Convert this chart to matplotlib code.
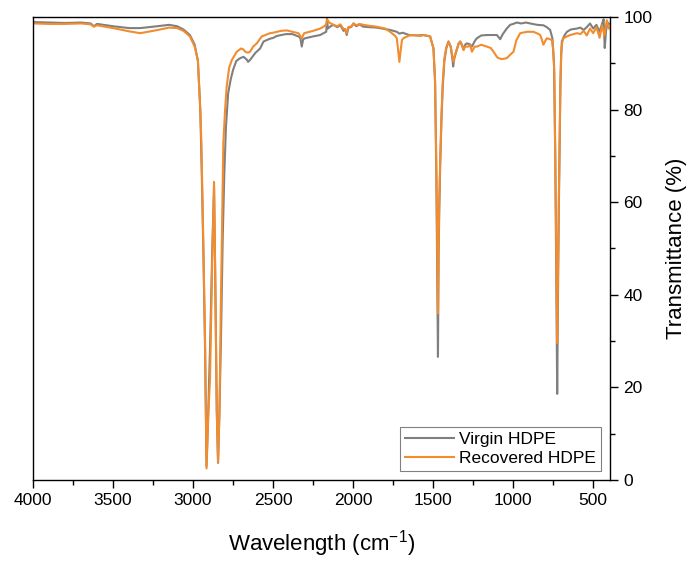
import matplotlib
matplotlib.use("Agg")
import matplotlib.pyplot as plt
from matplotlib.ticker import MultipleLocator

plt.rcParams['font.family'] = ['Liberation Sans', 'DejaVu Sans']
plt.rcParams['mathtext.fontset'] = 'custom'
plt.rcParams['mathtext.rm'] = 'Liberation Sans'
plt.rcParams['mathtext.it'] = 'Liberation Sans'

virgin_wn = [4000, 3900, 3800, 3700, 3640, 3620, 3600, 3500, 3400, 3330, 3250, 3150, 3100, 3060,
             3020, 2990, 2970, 2955, 2945, 2935, 2925, 2916, 2905, 2893, 2880, 2869, 2862, 2852,
             2844, 2835, 2825, 2815, 2805, 2795, 2781, 2765, 2750, 2730, 2706, 2685, 2665, 2656,
             2640, 2612, 2581, 2560, 2520, 2498, 2477, 2420, 2380, 2342, 2330, 2321, 2312, 2300,
             2250, 2206, 2180, 2168, 2163, 2158, 2140, 2123, 2100, 2080, 2060, 2050, 2040, 2030,
             2010, 1998, 1980, 1960, 1937, 1900, 1852, 1800, 1769, 1727, 1711, 1690, 1650, 1600,
             1561, 1519, 1498, 1488, 1480, 1475, 1470, 1466, 1462, 1456, 1448, 1440, 1430, 1418,
             1404, 1390, 1380, 1375, 1368, 1352, 1340, 1331, 1320, 1310, 1300, 1290, 1270, 1258,
             1240, 1227, 1200, 1164, 1130, 1102, 1081, 1065, 1040, 1019, 1000, 977, 950, 920,
             894, 850, 811, 790, 769, 755, 745, 737, 731, 725, 720, 715, 710, 705, 700, 696,
             680, 664, 640, 602, 580, 560, 540, 520, 500, 480, 460, 445, 435, 428, 420, 410, 400]
virgin_t = [98.9, 98.8, 98.7, 98.8, 98.6, 98.0, 98.5, 98.0, 97.6, 97.6, 97.9, 98.3, 98.0, 97.3,
            96.1, 94.0, 90.5, 80, 65, 48, 28, 3.0, 15, 30, 50, 63, 45, 15,
            3.7, 15, 32, 52, 66, 76, 83.5, 86.5, 88.6, 90.5, 91.1, 91.4, 90.8, 90.3,
            90.9, 92.2, 93.2, 94.7, 95.3, 95.5, 95.9, 96.3, 96.3, 95.8, 95.5, 93.6, 95.2, 95.4,
            95.8, 96.1, 96.6, 96.8, 99.6, 97.5, 98.0, 98.3, 97.8, 98.2, 97.0, 97.4, 96.1, 97.6,
            97.9, 98.6, 98.0, 98.4, 97.9, 97.8, 97.7, 97.4, 97.2, 96.8, 96.4, 96.6, 96.1, 96.0,
            96.1, 95.8, 93.2, 86, 65, 45, 26.6, 48, 58, 68, 78, 85, 90.5, 93.2,
            94.7, 93.5, 91.0, 89.3, 91.0, 93.0, 94.3, 94.7, 94.0, 92.9, 94.0, 94.3, 94.1, 93.6,
            94.8, 95.4, 96.0, 96.1, 96.1, 96.1, 95.2, 96.3, 97.5, 98.3, 98.5, 98.8, 98.6, 98.8,
            98.6, 98.3, 98.2, 97.8, 97.2, 95.4, 90, 70, 45, 18.6, 40, 58, 72, 85, 92, 94.7,
            96.0, 96.8, 97.3, 97.5, 97.7, 97.2, 97.8, 98.6, 97.5, 98.3, 96.8, 98.5, 99.5, 93.3, 97.0, 98.8, 98.5]

recovered_wn = [4000, 3900, 3800, 3700, 3640, 3620, 3600, 3500, 3400, 3330, 3250, 3150, 3100, 3060,
                3020, 2990, 2970, 2955, 2948, 2936, 2925, 2916, 2905, 2894, 2880, 2869, 2862, 2852,
                2844, 2835, 2827, 2811, 2800, 2790, 2775, 2758, 2727, 2700, 2687, 2670, 2656, 2644,
                2625, 2602, 2571, 2519, 2500, 2450, 2415, 2380, 2342, 2321, 2306, 2250, 2206, 2180,
                2168, 2163, 2150, 2123, 2100, 2080, 2060, 2050, 2040, 2030, 2010, 1998, 1980, 1960,
                1937, 1900, 1852, 1800, 1769, 1740, 1727, 1718, 1711, 1704, 1695, 1686, 1650, 1623,
                1581, 1561, 1519, 1498, 1488, 1480, 1475, 1470, 1466, 1462, 1456, 1448, 1440, 1430,
                1418, 1404, 1390, 1380, 1373, 1366, 1352, 1340, 1331, 1320, 1310, 1300, 1280, 1269,
                1258, 1240, 1227, 1200, 1164, 1140, 1123, 1100, 1092, 1070, 1040, 1020, 998, 980,
                956, 914, 873, 840, 831, 820, 811, 800, 790, 770, 758, 750, 743, 737, 731, 725,
                720, 715, 710, 705, 700, 694, 686, 664, 644, 600, 580, 560, 540, 520, 500, 480,
                460, 445, 430, 415, 400]
recovered_t = [98.6, 98.5, 98.5, 98.6, 98.4, 97.9, 98.2, 97.6, 96.9, 96.5, 97.0, 97.7, 97.6, 97.0,
               95.8, 93.6, 90.7, 80, 72.8, 51, 29.6, 2.5, 14, 22, 48, 64.4, 45, 15,
               3.9, 15, 36.7, 72.8, 80, 85, 89, 90.7, 92.5, 93.2, 93.0, 92.4, 92.3, 92.5,
               93.6, 94.3, 95.8, 96.5, 96.6, 97.0, 97.1, 96.8, 96.5, 95.4, 96.5, 97.0, 97.5, 98.0,
               98.4, 99.5, 98.8, 98.3, 98.0, 98.4, 97.4, 97.4, 96.5, 97.8, 98.0, 98.6, 98.2, 98.5,
               98.3, 98.1, 97.9, 97.5, 96.8, 96.0, 95.4, 92.5, 90.3, 92.5, 95.0, 95.4, 96.0, 96.1,
               95.9, 96.1, 95.8, 93.2, 86, 68, 52, 36, 50, 60, 69, 79, 86, 91,
               93.5, 94.7, 93.6, 91.5, 90.3, 91.5, 93.0, 94.3, 94.7, 93.8, 92.9, 93.6, 93.6, 94.0,
               92.5, 93.6, 93.6, 94.0, 93.6, 93.3, 92.5, 91.3, 91.1, 90.9, 91.1, 91.8, 92.5, 95.0,
               96.5, 96.8, 96.8, 96.3, 96.1, 95.0, 94.0, 94.8, 95.4, 95.2, 95.0, 93, 88, 70, 50, 29.6,
               45, 60, 73, 86, 92, 94.5, 95.4, 95.8, 96.1, 96.5, 96.3, 97.0, 96.0, 97.5, 96.5, 97.8,
               95.5, 98.2, 96.0, 99.3, 97.5]

labels = ["Virgin HDPE", "Recovered HDPE"]
colors = ["#7f7f7f", "#F28C2E"]

fig = plt.figure(figsize=(6.91, 5.62), dpi=100)
ax = fig.add_axes([0.0478, 0.1459, 0.8350, 0.8239])

ax.plot(virgin_wn, virgin_t, color=colors[0], lw=1.5, label=labels[0])
ax.plot(recovered_wn, recovered_t, color=colors[1], lw=1.5, label=labels[1])

ax.set_xlim(4000, 395)
ax.set_ylim(0, 100)
ax.xaxis.set_major_locator(MultipleLocator(500))
ax.xaxis.set_minor_locator(MultipleLocator(250))
ax.yaxis.set_major_locator(MultipleLocator(20))
ax.yaxis.set_minor_locator(MultipleLocator(10))
ax.yaxis.tick_right()
ax.yaxis.set_label_position("right")
ax.tick_params(which='major', direction='out', length=6, width=1, labelsize=12.5)
ax.tick_params(which='minor', direction='out', length=3.5, width=1)
ax.tick_params(axis='y', which='both', left=False, right=True)
ax.tick_params(axis='x', which='both', top=False, bottom=True)
for s in ax.spines.values():
    s.set_linewidth(1.0)

ax.set_xlabel("Wavelength (cm$^{-1}$)", fontsize=16, labelpad=14)
ax.set_ylabel("Transmittance (%)", fontsize=16, labelpad=10)

leg = ax.legend(loc='lower right', fontsize=12.5, frameon=True, fancybox=False,
                edgecolor='#808080', framealpha=1, handlelength=2.8, borderpad=0.3,
                labelspacing=0.2, handletextpad=0.3, borderaxespad=0.5)
leg.get_frame().set_linewidth(0.8)

fig.savefig("out.png", dpi=100)
